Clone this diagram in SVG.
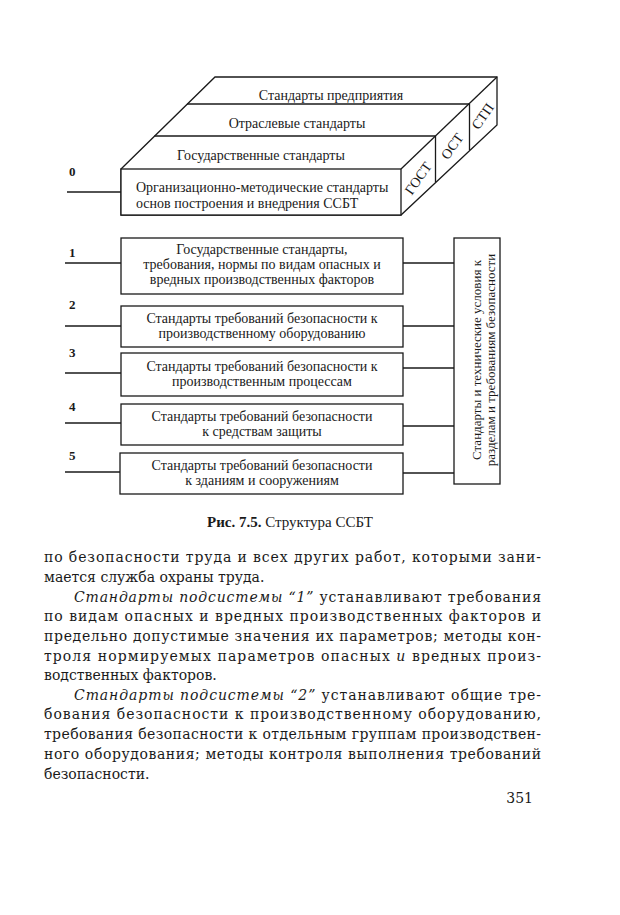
<svg xmlns="http://www.w3.org/2000/svg" width="620" height="915" viewBox="0 0 620 915">
<style>
.ln{fill:none;stroke:#1a1a1a;stroke-width:1.3;stroke-linejoin:miter}
.bx{fill:#fff;stroke:#1a1a1a;stroke-width:1.3}
.d{font-family:"Liberation Serif","Times New Roman",serif;font-size:14px;fill:#1a1a1a}
.v{font-family:"Liberation Serif","Times New Roman",serif;font-size:13px;fill:#1a1a1a;text-anchor:middle}
.m{text-anchor:middle}
.num{font-family:"Liberation Serif","Times New Roman",serif;font-size:13px;font-weight:bold;fill:#1a1a1a}
.cap{font-family:"Liberation Serif","Times New Roman",serif;font-size:15px;fill:#1a1a1a;text-anchor:middle}
.b{font-family:"DejaVu Serif","Liberation Serif",serif;font-size:14px;fill:#1a1a1a}
.i{font-style:italic}
</style>
<rect width="620" height="915" fill="#fff"/>

<g id="connectors">
<line class="ln" x1="67" y1="192" x2="121" y2="192"/>
<line class="ln" x1="65" y1="263" x2="121" y2="263"/>
<line class="ln" x1="65" y1="326" x2="121" y2="326"/>
<line class="ln" x1="65" y1="373" x2="121" y2="373"/>
<line class="ln" x1="65" y1="423" x2="121" y2="423"/>
<line class="ln" x1="65" y1="472" x2="120" y2="472"/>
<line class="ln" x1="403" y1="263" x2="454" y2="263"/>
<line class="ln" x1="403" y1="326" x2="454" y2="326"/>
<line class="ln" x1="403" y1="368" x2="454" y2="368"/>
<line class="ln" x1="403" y1="426" x2="454" y2="426"/>
<line class="ln" x1="403" y1="473" x2="454" y2="473"/>
</g>

<g id="block0">
<polygon class="bx" points="121,169 215,77 497,77 497,125 401,215 121,215"/>
<rect class="bx" x="121" y="169" width="280" height="46"/>
<polyline class="ln" points="401,169 497,77"/>
<line class="ln" x1="187" y1="104" x2="469.5" y2="104"/>
<line class="ln" x1="154.5" y1="136" x2="435.5" y2="136"/>
<line class="ln" x1="435.5" y1="136" x2="435.5" y2="182"/>
<line class="ln" x1="469.5" y1="104" x2="469.5" y2="150"/>
<text class="d m" x="331" y="100">Стандарты предприятия</text>
<text class="d m" x="297" y="128">Отраслевые стандарты</text>
<text class="d m" x="261" y="160">Государственные стандарты</text>
<text class="d" x="136" y="192">Организационно-методические стандарты</text>
<text class="d" x="136" y="208">основ построения и внедрения ССБТ</text>
<text class="d m" transform="translate(422,181) rotate(-55)">ГОСТ</text>
<text class="d m" transform="translate(456,149) rotate(-55)">ОСТ</text>
<text class="d m" transform="translate(486.5,119) rotate(-55)">СТП</text>
<text class="num" x="69" y="176">0</text>
</g>

<g id="box1">
<rect class="bx" x="121" y="238" width="282" height="56"/>
<text class="d m" x="262" y="254">Государственные стандарты,</text>
<text class="d m" x="262" y="269">требования, нормы по видам опасных и</text>
<text class="d m" x="262" y="284">вредных производственных факторов</text>
<text class="num" x="69" y="257">1</text>
</g>

<g id="box2">
<rect class="bx" x="121" y="306" width="282" height="41"/>
<text class="d m" x="262" y="323">Стандарты требований безопасности к</text>
<text class="d m" x="262" y="338">производственному оборудованию</text>
<text class="num" x="69" y="309">2</text>
</g>

<g id="box3">
<rect class="bx" x="121" y="353" width="282" height="43"/>
<text class="d m" x="262" y="371">Стандарты требований безопасности к</text>
<text class="d m" x="262" y="386">производственным процессам</text>
<text class="num" x="69" y="357">3</text>
</g>

<g id="box4">
<rect class="bx" x="121" y="404" width="282" height="41"/>
<text class="d m" x="262" y="421">Стандарты требований безопасности</text>
<text class="d m" x="262" y="436">к средствам защиты</text>
<text class="num" x="69" y="411">4</text>
</g>

<g id="box5">
<rect class="bx" x="120" y="453" width="283" height="41"/>
<text class="d m" x="262" y="470">Стандарты требований безопасности</text>
<text class="d m" x="262" y="485">к зданиям и сооружениям</text>
<text class="num" x="69" y="460">5</text>
</g>

<g id="boxTU">
<rect class="bx" x="454" y="238" width="46" height="246"/>
<text class="v" transform="translate(481,360) rotate(-90)">Стандарты и технические условия к</text>
<text class="v" transform="translate(495,360) rotate(-90)">разделам и требованиям безопасности</text>
</g>

<g id="caption">
<text class="cap" x="290" y="527"><tspan font-weight="bold">Рис. 7.5.</tspan> Структура ССБТ</text>
</g>

<g id="body">
<text class="b" x="44" y="562" textLength="497" lengthAdjust="spacing">по безопасности труда и всех других работ, которыми зани-</text>
<text class="b" x="44" y="582">мается служба охраны труда.</text>
<text class="b" x="74" y="602" textLength="467" lengthAdjust="spacing"><tspan class="i">Стандарты подсистемы “1”</tspan> устанавливают требования</text>
<text class="b" x="44" y="621" textLength="497" lengthAdjust="spacing">по видам опасных и вредных производственных факторов и</text>
<text class="b" x="44" y="641" textLength="497" lengthAdjust="spacing">предельно допустимые значения их параметров; методы кон-</text>
<text class="b" x="44" y="661" textLength="497" lengthAdjust="spacing">троля нормируемых параметров опасных <tspan class="i">и</tspan> вредных произ-</text>
<text class="b" x="44" y="680">водственных факторов.</text>
<text class="b" x="74" y="700" textLength="467" lengthAdjust="spacing"><tspan class="i">Стандарты подсистемы “2”</tspan> устанавливают общие тре-</text>
<text class="b" x="44" y="719" textLength="497" lengthAdjust="spacing">бования безопасности к производственному оборудованию,</text>
<text class="b" x="44" y="739" textLength="497" lengthAdjust="spacing">требования безопасности к отдельным группам производствен-</text>
<text class="b" x="44" y="759" textLength="497" lengthAdjust="spacing">ного оборудования; методы контроля выполнения требований</text>
<text class="b" x="44" y="779">безопасности.</text>
<text class="b" x="533" y="803" text-anchor="end">351</text>
</g>
</svg>
